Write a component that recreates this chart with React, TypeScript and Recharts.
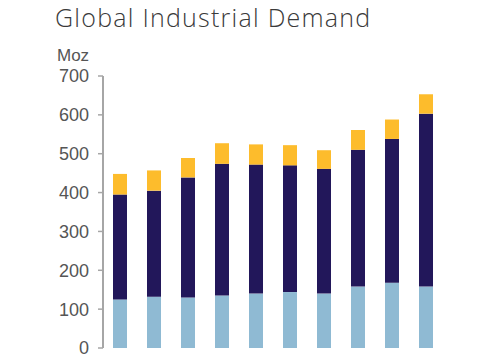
import React from "react";
import { BarChart, Bar, XAxis, YAxis } from "recharts";

const years = ["2014", "2015", "2016", "2017", "2018", "2019", "2020", "2021", "2022", "2023"];
const baseSegment = [125, 132, 130, 135, 140, 144, 140, 158, 168, 158];
const middleSegment = [270, 273, 309, 339, 332, 326, 321, 352, 370, 445];
const topSegment = [53, 52, 50, 53, 52, 52, 48, 51, 50, 50];
const yTicks = [0, 100, 200, 300, 400, 500, 600, 700];

const data = years.map((y, i) => ({
  year: y,
  base: baseSegment[i],
  middle: middleSegment[i],
  top: topSegment[i],
}));

export default function App() {
  return (
    <div style={{ position: "absolute", left: 0, top: 0, width: 485, height: 360, background: "#fff" }}>
      <div
        style={{
          position: "absolute",
          left: 55,
          top: 0,
          fontFamily: "'Open Sans', Roboto, sans-serif",
          fontWeight: 300,
          fontSize: 25,
          letterSpacing: 1.25,
          color: "#3a3a3a",
          whiteSpace: "nowrap",
        }}
      >
        Global Industrial Demand
      </div>
      <div
        style={{
          position: "absolute",
          left: 57,
          top: 46,
          fontFamily: "'Liberation Sans', Arial, sans-serif",
          fontSize: 17,
          color: "#555",
        }}
      >
        Moz
      </div>
      <BarChart
        width={485}
        height={360}
        data={data}
        margin={{ top: 76, right: 42, bottom: 12, left: 0 }}
        barCategoryGap={0}
      >
        <XAxis dataKey="year" hide />
        <YAxis
          width={103}
          domain={[0, 700]}
          ticks={yTicks}
          interval={0}
          axisLine={{ stroke: "#a6a6a6", strokeWidth: 2 }}
          tickLine={{ stroke: "#a6a6a6", strokeWidth: 1.5 }}
          tickSize={5}
          tickMargin={9}
          tick={{ fill: "#555", fontSize: 18, fontFamily: "'Liberation Sans', Arial, sans-serif" }}
        />
        <Bar dataKey="base" stackId="a" fill="#8fbad3" barSize={14} isAnimationActive={false} />
        <Bar dataKey="middle" stackId="a" fill="#22175a" barSize={14} isAnimationActive={false} />
        <Bar dataKey="top" stackId="a" fill="#fdbc2c" barSize={14} isAnimationActive={false} />
      </BarChart>
    </div>
  );
}
